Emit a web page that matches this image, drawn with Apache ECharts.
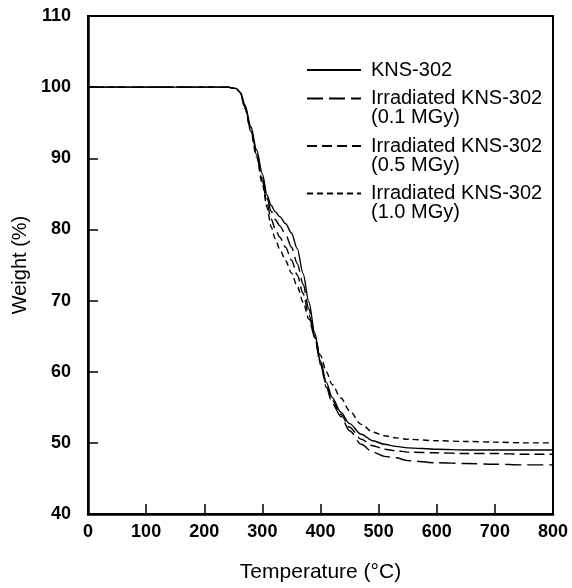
<!DOCTYPE html>
<html>
<head>
<meta charset="utf-8">
<script src="https://cdn.jsdelivr.net/npm/echarts@6/dist/echarts.min.js"></script>
<style>
  html, body { margin: 0; padding: 0; background: #fff; }
  #container { width: 572px; height: 588px; }
</style>
</head>
<body>
<div id="container"></div>
<script>
// temperatures (°C) shared by all four curves
let temps = [0, 240, 255, 262, 270, 280, 290, 300, 308, 315, 322, 330, 340, 350, 360, 370, 380, 390,
    400, 410, 420, 435, 450, 470, 490, 510, 530, 550, 600, 650, 700, 750, 800];

// weight (%)
let kns302 = [100, 100, 99.8, 99.3, 97.5, 94.5, 91.2, 87.8, 84.8, 83.4, 82.5, 81.8, 80.8, 79.5, 77.3, 73.8, 69.8, 65.5,
    61.5, 58.5, 56.4, 54.3, 52.7, 51.2, 50.3, 49.8, 49.5, 49.3, 49.1, 49.0, 49.0, 49.0, 49.0];
let irr01 = [100, 100, 99.8, 99.2, 97.3, 94.2, 90.8, 87.3, 84.4, 82.6, 81.4, 80.5, 79.3, 77.5, 75.2, 72.3, 68.8, 65.0,
    61.0, 57.8, 55.6, 53.7, 51.7, 49.8, 48.7, 48.1, 47.9, 47.5, 47.2, 47.1, 47.0, 46.9, 46.9];
let irr05 = [100, 100, 99.8, 99.2, 97.2, 94.0, 90.5, 86.8, 83.7, 81.5, 80.1, 78.9, 77.5, 75.7, 73.6, 71.0, 68.0, 64.8,
    61.2, 58.2, 56.0, 54.0, 52.2, 50.5, 49.6, 49.1, 48.9, 48.7, 48.6, 48.5, 48.5, 48.4, 48.4];
let irr10 = [100, 100, 99.8, 99.2, 97.0, 93.8, 90.2, 86.4, 83.1, 80.4, 78.7, 77.2, 75.6, 73.9, 72.0, 69.8, 67.4, 64.9,
    62.3, 60.0, 58.2, 56.3, 54.5, 52.6, 51.5, 51.0, 50.7, 50.5, 50.3, 50.2, 50.1, 50.0, 50.0];

let names = ['KNS-302', 'Irradiated KNS-302\n(0.1 MGy)', 'Irradiated KNS-302\n(0.5 MGy)', 'Irradiated KNS-302\n(1.0 MGy)'];
let dashes = ['solid', [16, 6], [10, 5], [6, 4]];
let values = [kns302, irr01, irr05, irr10];

let font = '"Liberation Sans", Arial, sans-serif';

function pairs(ys) {
    return temps.map((t, i) => [t, ys[i]]);
}

// two-line entries get an empty first line so the icon sits on the first text line
function legendText(name) {
    let lines = name.split('\n');
    if (lines.length === 1) return '{t|' + name + '}';
    return '{e| }\n' + lines.map((l) => '{t|' + l + '}').join('\n');
}

let chart = echarts.init(document.getElementById('container'));

chart.setOption({
    animation: false,
    grid: {
        left: 88, right: 19, top: 16, bottom: 73,
        show: true, borderColor: '#000', borderWidth: 2
    },
    legend: {
        left: 306, top: 60, padding: 0,
        orient: 'vertical',
        itemWidth: 54, itemHeight: 10, itemGap: -10.5,
        itemStyle: { opacity: 0 },
        formatter: legendText,
        textStyle: {
            fontFamily: font, color: '#000', padding: [0, 0, 0, 5],
            rich: {
                t: { fontFamily: font, fontSize: 20, lineHeight: 19, color: '#000' },
                e: { fontFamily: font, fontSize: 20, lineHeight: 19 }
            }
        },
        data: names
    },
    xAxis: {
        type: 'value', min: 0, max: 800, interval: 100,
        name: 'Temperature (°C)', nameLocation: 'middle', nameGap: 48,
        nameTextStyle: { fontFamily: font, fontSize: 21, color: '#000' },
        axisLine: { lineStyle: { color: '#000', width: 2.5 } },
        axisTick: { inside: true, length: 10, lineStyle: { color: '#000', width: 1.5 } },
        axisLabel: { fontFamily: font, fontSize: 18, fontWeight: 'bold', color: '#000', margin: 9 },
        splitLine: { show: false }
    },
    yAxis: {
        type: 'value', min: 40, max: 110, interval: 10,
        name: 'Weight (%)', nameLocation: 'middle', nameGap: 58,
        nameTextStyle: { fontFamily: font, fontSize: 20, color: '#000' },
        axisLine: { lineStyle: { color: '#000', width: 2.5 } },
        axisTick: { inside: true, length: 10, lineStyle: { color: '#000', width: 1.5 } },
        axisLabel: { fontFamily: font, fontSize: 18, fontWeight: 'bold', color: '#000', margin: 17 },
        splitLine: { show: false }
    },
    series: names.map((n, i) => ({
        name: n,
        type: 'line',
        symbol: 'none',
        smooth: 0.3,
        smoothMonotone: 'x',
        color: '#000',
        lineStyle: { color: '#000', width: 1.4, type: dashes[i] },
        data: pairs(values[i])
    }))
});
</script>
</body>
</html>
